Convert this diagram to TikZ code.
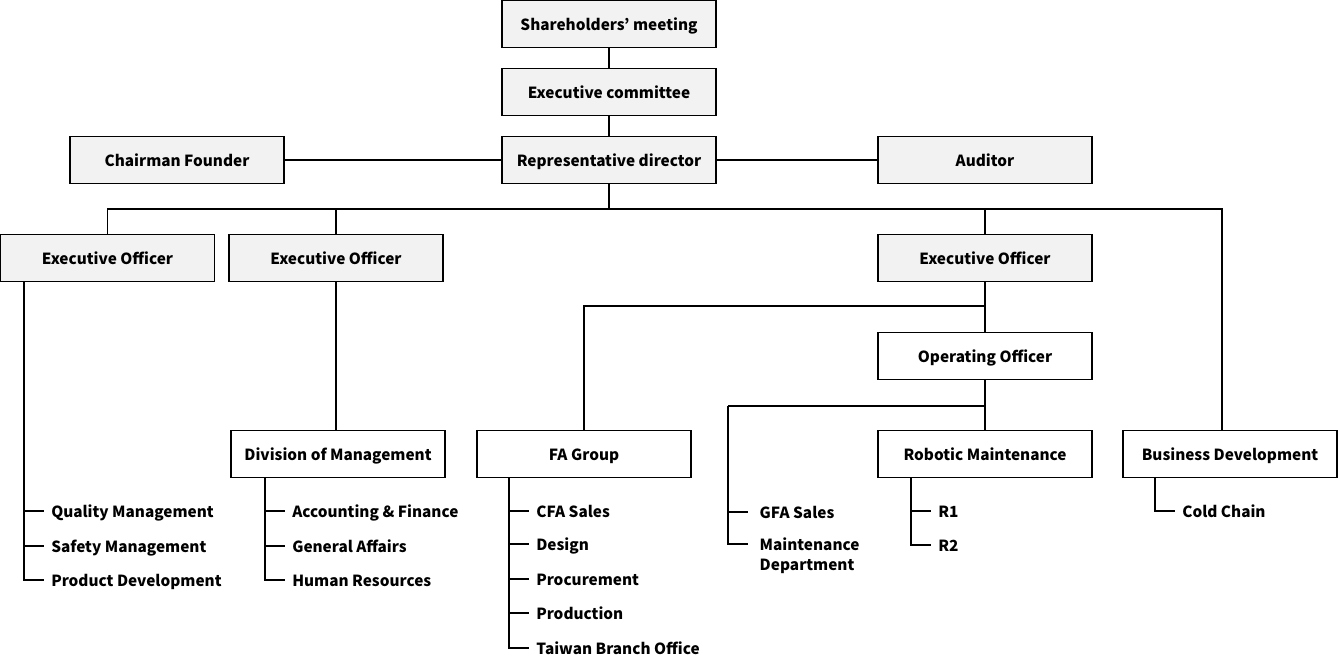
\documentclass[tikz,border=0pt]{standalone}
\usepackage{fontspec}
\setmainfont{Noto Sans CJK JP}
\usetikzlibrary{calc}
\definecolor{boxgray}{HTML}{F2F2F2}
\begin{document}
\begin{tikzpicture}[x=0.75pt,y=-0.75pt,
  every node/.style={font=\fontsize{11.5}{15}\selectfont\bfseries},
  box/.style={draw, line width=0.8pt, minimum width=160.5pt, minimum height=35.25pt, inner sep=0pt, fill=boxgray, text height=11pt, text depth=1.4pt},
  wbox/.style={box, fill=white},
  item/.style={anchor=base west, inner xsep=5.25pt, inner ysep=0pt},
  conn/.style={line width=0.8pt}]
\useasboundingbox (0,0) rectangle (1338,656);
% main boxes
\node[box] (sh) at (609,24) {Shareholders’ meeting};
\node[box] (ec) at (609,92) {Executive committee};
\node[box] (rd) at (609,160) {Representative director};
\node[box] (cf) at (177,160) {Chairman Founder};
\node[box] (au) at (985,160) {Auditor};
\node[box] (eo1) at (107.5,258) {Executive Officer};
\node[box] (eo2) at (336,258) {Executive Officer};
\node[box] (eo3) at (985,258) {Executive Officer};
\node[wbox] (oo) at (985,356) {Operating Officer};
\node[wbox] (dm) at (338,454) {Division of Management};
\node[wbox] (fa) at (584,454) {FA Group};
\node[wbox] (rm) at (985,454) {Robotic Maintenance};
\node[wbox] (bd) at (1230,454) {Business Development};
% top connectors
\draw[conn] (sh) -- (ec);
\draw[conn] (ec) -- (rd);
\draw[conn] (cf) -- (rd);
\draw[conn] (rd) -- (au);
\coordinate (bus) at (609,209);
\coordinate (bdx) at (1222,209);
\draw[conn] (rd.south) -- (bus);
\draw[conn] (eo1.north) |- (bdx) -- (bdx |- bd.north);
\draw[conn] (eo2.north) -- (eo2.north |- bus);
\draw[conn] (eo3.north) -- (eo3.north |- bus);
\draw[conn] (eo2.south) -- (eo2.south |- dm.north);
\coordinate (fabr) at (985,306);
\draw[conn] (eo3.south) -- (oo.north);
\draw[conn] (fa.north) |- (fabr);
\draw[conn] (oo.south) -- (rm.north);
\coordinate (gfabr) at (985,406);
% lists: EO1
\coordinate (l1) at (24,281);
\node[item] (q1) at (44,517) {Quality Management};
\node[item] (q2) at (44,552) {Safety Management};
\node[item] (q3) at (44,586) {Product Development};
\draw[conn] (l1) |- ($(q3.base west)+(0,-6)$);
\draw[conn] ($(l1 |- q1.base west)+(0,-6)$) -- ($(q1.base west)+(0,-6)$);
\draw[conn] ($(l1 |- q2.base west)+(0,-6)$) -- ($(q2.base west)+(0,-6)$);
% DM
\coordinate (l2) at (265,477);
\node[item] (a1) at (285,517) {Accounting \& Finance};
\node[item] (a2) at (285,552) {General Affairs};
\node[item] (a3) at (285,586) {Human Resources};
\draw[conn] (l2) |- ($(a3.base west)+(0,-6)$);
\draw[conn] ($(l2 |- a1.base west)+(0,-6)$) -- ($(a1.base west)+(0,-6)$);
\draw[conn] ($(l2 |- a2.base west)+(0,-6)$) -- ($(a2.base west)+(0,-6)$);
% FA
\coordinate (l3) at (509,477);
\node[item] (f1) at (529,517) {CFA Sales};
\node[item] (f2) at (529,550) {Design};
\node[item] (f3) at (529,585) {Procurement};
\node[item] (f4) at (529,619) {Production};
\node[item] (f5) at (529,654) {Taiwan Branch Office};
\draw[conn] (l3) |- ($(f5.base west)+(0,-6)$);
\foreach \n in {f1,f2,f3,f4}
  \draw[conn] ($(l3 |- \n.base west)+(0,-6)$) -- ($(\n.base west)+(0,-6)$);
% GFA
\coordinate (l4) at (728,406);
\node[item, inner xsep=8.6pt] (g1) at (748,518) {GFA Sales};
\node[item, inner xsep=8.6pt, align=left] (g2) at (748,570) {Maintenance\\Department};
\draw[conn] (gfabr) -- (l4);
\draw[conn] (l4) |- ($(g2.base west)+(0,-26)$);
\draw[conn] ($(l4 |- g1.base west)+(0,-6)$) -- ($(g1.base west)+(0,-6)$);
% RM
\coordinate (l5) at (911,477);
\node[item] (r1) at (931,517) {R1};
\node[item] (r2) at (931,551) {R2};
\draw[conn] (l5) |- ($(r2.base west)+(0,-6)$);
\draw[conn] ($(l5 |- r1.base west)+(0,-6)$) -- ($(r1.base west)+(0,-6)$);
% BD
\coordinate (l6) at (1155,477);
\node[item] (c1) at (1175,517) {Cold Chain};
\draw[conn] (l6) |- ($(c1.base west)+(0,-6)$);
\end{tikzpicture}
\end{document}
